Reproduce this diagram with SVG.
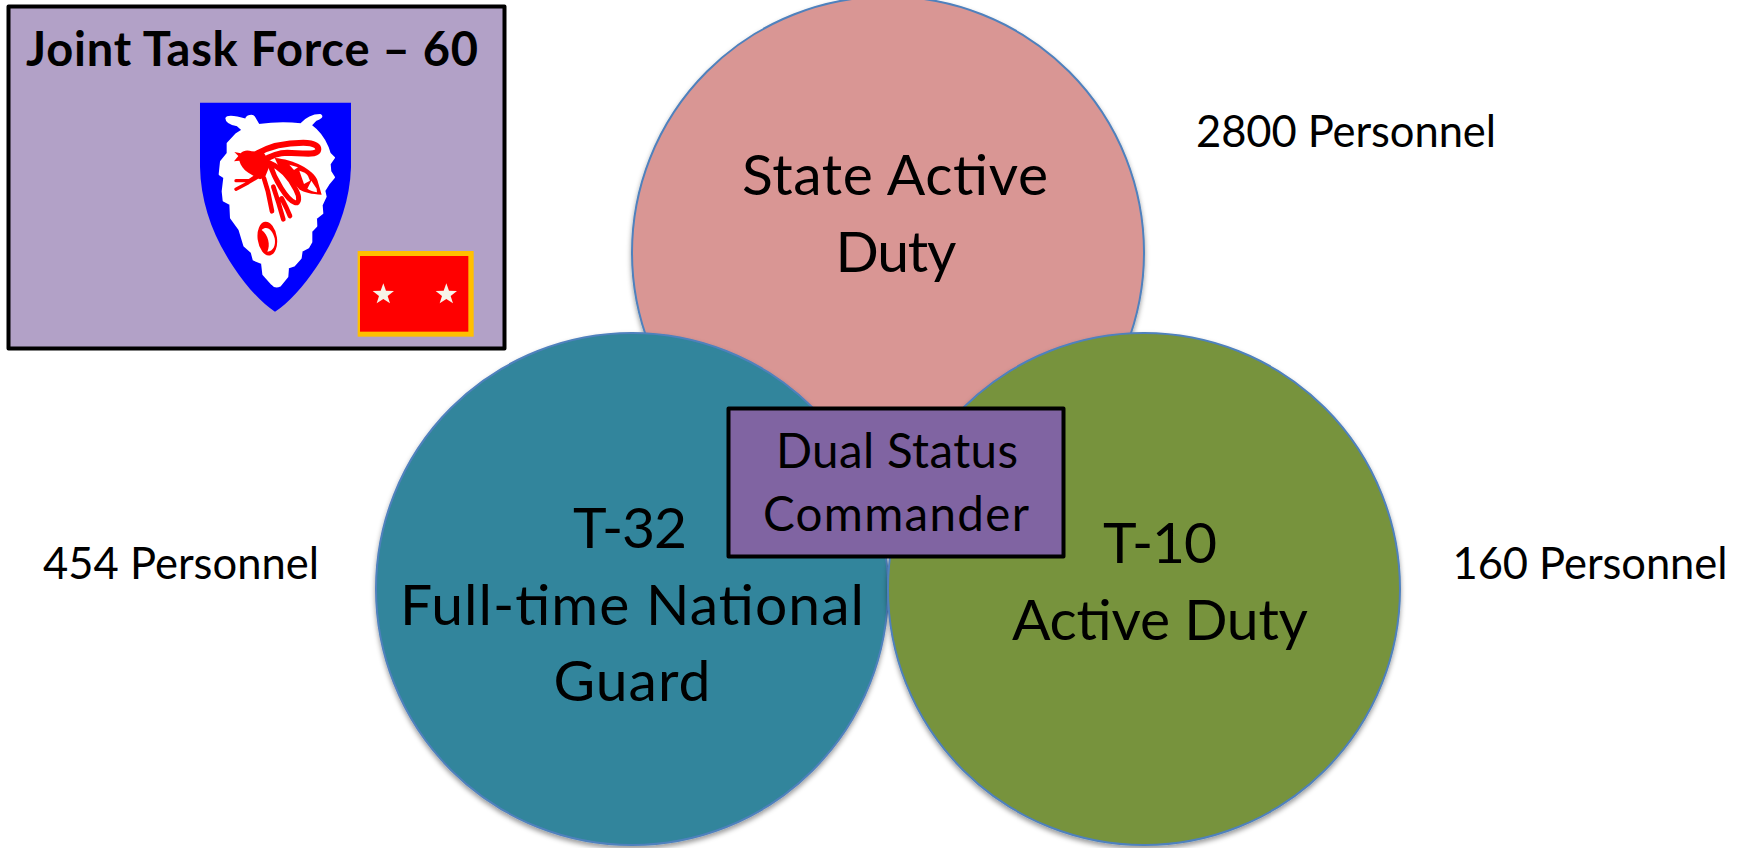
<svg xmlns="http://www.w3.org/2000/svg" width="1745" height="848" viewBox="0 0 1745 848">
<defs>
<filter id="shadow" x="-5%" y="-5%" width="110%" height="110%">
<feDropShadow dx="0" dy="3" stdDeviation="2.500" flood-color="#000" flood-opacity=".4"/>
</filter>
</defs>
<style>
text{font-family:Lato,"Liberation Sans",sans-serif;fill:#000;text-anchor:middle}
.big{font-size:57px}
.mid{font-size:43.500px}
.box-text{font-size:47.500px}
.title{font-size:47px;font-weight:700}
.circ{stroke:#4f81bd;stroke-width:2;filter:url(#shadow)}
.box{stroke:#000;stroke-width:4;stroke-linejoin:round}
.star{fill:#f7f3e8}
.wing{fill:#fff;stroke:#f00;stroke-linejoin:round;stroke-linecap:round}
.leg{fill:none;stroke:#f00;stroke-linecap:round;stroke-linejoin:round}
</style>
<rect width="1745" height="848" fill="#fff"/>
<g id="state-active">
<circle class="circ" cx="888" cy="252.500" r="256" fill="#d99694"/>
<text class="big" x="895" y="195" textLength="306">State Active</text>
<text class="big" x="896" y="272" textLength="121">Duty</text>
</g>
<g id="t32">
<circle class="circ" cx="632" cy="589" r="256" fill="#31859c"/>
<text class="big" x="630" y="548" textLength="114">T-32</text>
<text class="big" x="632" y="625" textLength="464">Full-time National</text>
<text class="big" x="632" y="701" textLength="157">Guard</text>
</g>
<g id="t10">
<circle class="circ" cx="1144" cy="589" r="256" fill="#77933c"/>
<text class="big" x="1160" y="563" textLength="114">T-10</text>
<text class="big" x="1160" y="640" textLength="296">Active Duty</text>
</g>
<g id="dual-status">
<rect class="box" x="728.500" y="408.500" width="335" height="148" fill="#8064a2"/>
<text class="box-text" x="897" y="468" textLength="242">Dual Status</text>
<text class="box-text" x="896" y="531" textLength="266">Commander</text>
</g>
<g id="jtf">
<rect class="box" x="8.500" y="6.500" width="496" height="342" fill="#b2a1c7"/>
<text class="title" x="252" y="66" textLength="452">Joint Task Force – 60</text>
<g id="insignia" transform="translate(180 90) scale(.33333)">
<path fill="#0000ff" d="M60 38H513V230C510 340 470 440 410 530C370 590 325 640 285 665C245 640 200 590 160 530C100 440 62 340 60 230Z"/>
<path fill="#fff" stroke="#fff" stroke-width="6" stroke-linejoin="round" d="M139 85C143 75 170 81 198 89C200 77 218 75 222 81L236 105C280 99 330 99 362 103C375 89 395 75 420 75C429 79 422 85 407 90L392 106C418 125 432 145 443 172L449 190L462 203L449 222L451 245L462 262L447 280L433 302L437 320L425 345L427 370L408 385L409 408L394 424L394 456L385 472L365 483L362 504L342 527L324 533L322 560L300 587C290 592 282 590 276 582L250 553L246 519L221 509L215 487L193 467L178 418L153 384L151 342L131 332L128 304L133 262L119 253L123 215L143 190L143 160L168 133L188 120L172 106C150 102 139 95 139 85Z"/>
<g id="bee">
<path class="wing" stroke-width="18" fill="none" d="M232 190C270 168 320 158 370 158C406 158 418 170 414 182C406 196 372 190 322 188C292 188 268 200 250 212"/>
<path fill="#f00" d="M284 204C340 208 398 238 412 270L425 314C395 313 372 308 358 298L296 230Z"/>
<path fill="#fff" d="M328 224L354 232L342 240Z"/>
<path fill="#fff" d="M358 242C370 245 380 250 384 258L390 272L372 282Z"/>
<path fill="#fff" d="M394 272L410 296L411 307C400 304 390 302 382 296Z"/>
<path fill="#f00" d="M163 186L182 190C190 180 205 180 215 184L250 186L272 220L255 262L240 268L225 260L205 248C190 238 182 226 178 212L162 214L175 198Z"/>
<path class="leg" stroke-width="10" d="M168 272L208 272L228 258M238 258L205 278L168 298"/>
<path class="wing" stroke-width="15" d="M268 218C285 270 320 330 345 338C358 342 360 322 348 300C330 262 300 232 268 218Z"/>
<path class="leg" stroke-width="14" d="M252 265L264 305L276 364M280 290L296 340L310 388M305 325L320 355L330 378"/>
<ellipse cx="262" cy="446" rx="29" ry="51" fill="#f00" transform="rotate(-8 262 446)"/>
<path fill="#fff" d="M245 420C262 405 278 422 284 445C288 465 280 485 262 485C272 465 265 435 245 420Z"/>
</g>
<rect x="533" y="483" width="348" height="257" fill="#ffc000"/>
<rect x="540" y="498" width="325" height="227" fill="#f00"/>
<polygon class="star" points="610,580 618,602 642,603 623,618 630,640 610,627 590,640 597,618 578,603 602,602"/>
<polygon class="star" points="799,580 807,602 831,603 812,618 819,640 799,627 779,640 786,618 767,603 791,602"/>
</g>
</g>
<g id="labels">
<text class="mid" x="1346" y="147" textLength="300">2800 Personnel</text>
<text class="mid" x="181" y="579" textLength="276">454 Personnel</text>
<text class="mid" x="1590" y="579" textLength="275">160 Personnel</text>
</g>
<g id="connectors"/>
</svg>
